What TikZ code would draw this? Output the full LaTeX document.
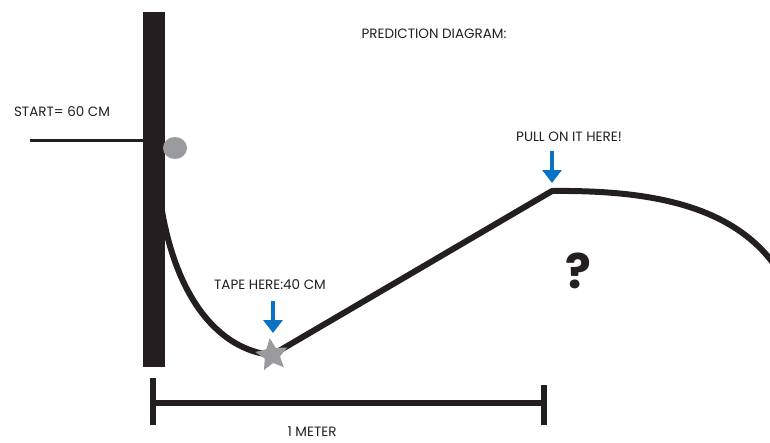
\documentclass[tikz,border=0pt]{standalone}
\usepackage{fontspec}
\setmainfont{Poppins}
\usetikzlibrary{shapes.geometric,arrows.meta}
\definecolor{arrowblue}{HTML}{0A72C4}
\definecolor{dotgray}{HTML}{9A9A9F}
\definecolor{ink}{HTML}{231F20}
\begin{document}
\begin{tikzpicture}[x=1pt,y=-1pt,
  lbl/.style={font=\fontsize{13.5}{15}\selectfont, text=ink, inner sep=0pt},
  rope/.style={draw=ink, line width=6pt},
  bluearrow/.style={draw=arrowblue, line width=4.5pt, -{Triangle[width=19pt,length=13pt]}, arrowblue}]
\useasboundingbox (0,0) rectangle (770,442);
\begin{scope}
\clip (0,0) rectangle (770,442);
% pole
\coordinate (poleR) at (161,205);
\draw[rope] (poleR) .. controls (176,300) and (220,350) .. (272,355);
\fill[ink] (143,12) rectangle (165,367);
\coordinate (poleL) at (143,140);
% start line
\coordinate (startEnd) at (30,140);
\draw[ink, line width=3pt] (startEnd) -- (poleL);
% ball
\node[ellipse, fill=dotgray, minimum width=24pt, minimum height=22pt, inner sep=0pt] (ball) at (175,148) {};
% star
\coordinate (starC) at (272,355);
\coordinate (peak) at (552,191);
\coordinate (rightEnd) at (778,270);
\draw[rope, line join=round] (starC) -- (peak) .. controls (650,190) and (735,205) .. (rightEnd);
\node[star, star points=5, star point ratio=2.1, fill=dotgray, minimum size=34pt, inner sep=0pt, rotate=8] (starnode) at (starC) {};
% arrows
\coordinate (a1top) at (273,301);
\coordinate (a1tip) at (273,333);
\draw[bluearrow] (a1top) -- (a1tip);
\coordinate (a2top) at (552,151);
\coordinate (a2tip) at (552,183);
\draw[bluearrow] (a2top) -- (a2tip);
% scale bar
\coordinate (barL) at (153,403);
\coordinate (barR) at (545,403);
\draw[ink, line width=6pt] (barL) -- (barR);
\draw[ink, line width=6pt] (153,378) -- (153,425);
\draw[ink, line width=6pt] (544,385) -- (544,425);
\end{scope}
% texts
\node[lbl] (title) at (434,34) {PREDICTION DIAGRAM:};
\node[lbl] (start) at (62,112) {START= 60 CM};
\node[lbl] (pull) at (569,137) {PULL ON IT HERE!};
\node[lbl] (tape) at (270,285) {TAPE HERE:40 CM};
\node[lbl] (meter) at (312,432) {1 METER};
\node[font=\fontsize{48}{50}\selectfont\bfseries, text=ink, inner sep=0pt] (q) at (578,271) {?};
\end{tikzpicture}
\end{document}
